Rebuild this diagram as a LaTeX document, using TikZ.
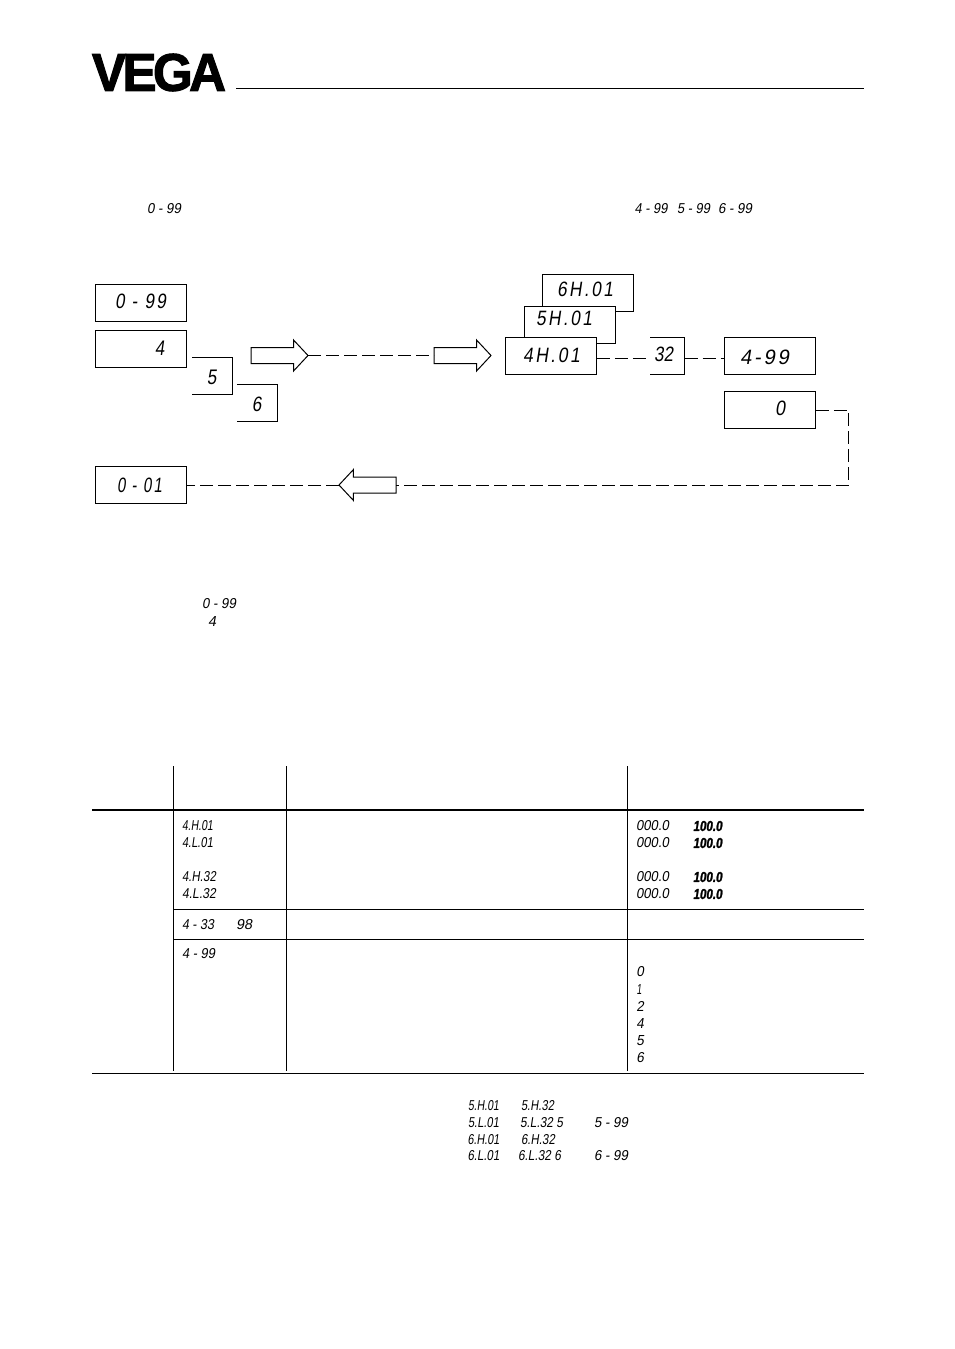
\documentclass[tikz,border=0pt]{standalone}
\usepackage{graphicx}
\usepackage{fontspec}
\usetikzlibrary{shapes.arrows}
\newfontfamily\segfont[FakeSlant=0.18]{Liberation Sans}
\newfontfamily\segwide[FakeSlant=0.18,LetterSpace=14]{Liberation Sans}
\newfontfamily\segbold[FakeSlant=0.18,FakeBold=2]{Liberation Sans Bold}
\newfontfamily\logofont[LetterSpace=-7,FakeBold=2]{Liberation Sans Bold}
\newcommand\fitseg[3]{\resizebox{#1pt}{#2pt}{\segfont #3}}
\newcommand\fitwide[3]{\resizebox{#1pt}{#2pt}{\segwide #3}}
\newcommand\fitbold[3]{\resizebox{#1pt}{#2pt}{\segbold #3}}
\tikzset{
  x=1pt,y=-1pt,
  lbl/.style={inner sep=0pt,outer sep=0pt},
  dbox/.style={draw=black,fill=white,line width=1pt,inner sep=0pt,outer sep=0pt,minimum width=91.5pt,minimum height=37pt},
  obox/.style={inner sep=0pt,outer sep=0pt,minimum height=37pt},
  dashc/.style={line width=1pt,dash pattern=on 13pt off 5pt},
  bigarrow/.style={single arrow,draw=black,line width=1pt,fill=white,inner xsep=0pt,inner ysep=7.5pt,outer sep=0pt,minimum height=57pt,minimum width=0pt,single arrow head extend=7.5pt,single arrow tip angle=94,single arrow head indent=0pt,anchor=tail},
  rule/.style={line width=1pt,line cap=butt},
  thickrule/.style={line width=2pt}
}
\begin{document}
\begin{tikzpicture}
\useasboundingbox (0,0) rectangle (954,1349);
% logo and head rule
\node[lbl] (logo) at (159,72.5) {\resizebox{134pt}{37pt}{\logofont VEGA}};
\coordinate (hl) at (236,88); \coordinate (hr) at (864,88);
\draw[rule] (hl) -- (hr);
% top line
\node[lbl] (t1) at (164,209) {\fitseg{34}{10}{0 - 99}};
\node[lbl] (t2) at (651,209) {\fitseg{33}{10}{4 - 99}};
\node[lbl] (t3) at (693.5,209) {\fitseg{33}{10}{5 - 99}};
\node[lbl] (t4) at (735,209) {\fitseg{34}{10}{6 - 99}};
% display boxes, left
\node[dbox] (b099) at (141,303) {};
\node[lbl] (b099t) at (140.5,301) {\fitwide{51}{14.5}{0 - 99}};
\node[dbox] (b4) at (141,348.5) {};
\node[lbl] (b4t) at (159.5,348) {\fitseg{9.5}{14.5}{4}};
\node[obox,minimum width=40.5pt] (b5) at (212.3,375.5) {};
\draw[rule] (b5.north west) -- (b5.north east) -- (b5.south east) -- (b5.south west);
\node[lbl] (b5t) at (211.5,377) {\fitseg{9.5}{14.5}{5}};
\node[obox,minimum width=40.5pt] (b6) at (257.2,403) {};
\draw[rule] (b6.north west) -- (b6.north east) -- (b6.south east) -- (b6.south west);
\node[lbl] (b6t) at (256.5,404) {\fitseg{9.5}{14.5}{6}};
\node[dbox] (b001) at (141,485) {};
\node[lbl] (b001t) at (139.5,485) {\fitwide{45}{14.5}{0 - 01}};
% display boxes, right
\node[dbox] (h6) at (588,292.5) {};
\node[lbl] (h6t) at (585,289) {\fitwide{56}{14.5}{6H.01}};
\node[dbox] (h5) at (570,324.5) {};
\node[lbl] (h5t) at (564,318) {\fitwide{56}{14.5}{5H.01}};
\node[dbox] (h4) at (551,356) {};
\node[lbl] (h4t) at (551.5,355) {\fitwide{57}{14.5}{4H.01}};
\node[obox,minimum width=34.5pt] (h32) at (667.3,356) {};
\draw[rule] (h32.north west) -- (h32.north east) -- (h32.south east) -- (h32.south west);
\node[lbl] (h32t) at (663.5,354) {\fitseg{19}{14.5}{32}};
\node[dbox] (r499) at (770,356) {};
\node[lbl] (r499t) at (764.5,357) {\fitwide{49}{14.5}{4-99}};
\node[dbox] (r0) at (770,410) {};
\node[lbl] (r0t) at (780,408) {\fitseg{10}{14.5}{0}};
% outline arrows
\node[bigarrow] (a1) at (251,355.5) {};
\node[bigarrow] (a2) at (434,355.5) {};
\node[bigarrow,shape border rotate=180] (a3) at (396,485) {};
% connectors
\coordinate (corner) at (848.7,485);
\draw[dashc] (a1.tip) -- (a2.tail);
\draw[dashc] ([yshift=-2pt]h4.east) -- ([yshift=-2pt]h32.west);
\draw[dashc] ([yshift=-2pt]h32.east) -- ([yshift=-2pt]r499.west);
\draw[dashc] (r0.east) -| (corner) -- (a3.tail);
\draw[dashc] (a3.tip) -- (b001.east);
% middle text
\node[lbl] (m1) at (219,604) {\fitseg{34}{10}{0 - 99}};
\node[lbl] (m2) at (212,621) {\fitseg{8}{10}{4}};
% table rules
\coordinate (v1t) at (173.5,766); \coordinate (v1b) at (173.5,1071);
\coordinate (v2t) at (286.5,766); \coordinate (v2b) at (286.5,1071);
\coordinate (v3t) at (627.5,766); \coordinate (v3b) at (627.5,1071);
\coordinate (h1l) at (92,810); \coordinate (h1r) at (864,810);
\coordinate (h2l) at (173,909); \coordinate (h2r) at (864,909);
\coordinate (h3l) at (173,939); \coordinate (h3r) at (864,939);
\coordinate (h4l) at (92,1073.5); \coordinate (h4r) at (864,1073.5);
\draw[rule] (v1t) -- (v1b); \draw[rule] (v2t) -- (v2b); \draw[rule] (v3t) -- (v3b);
\draw[thickrule] (h1l) -- (h1r);
\draw[rule] (h2l) -- (h2r); \draw[rule] (h3l) -- (h3r); \draw[rule] (h4l) -- (h4r);
% table, second column
\node[lbl] (c1) at (197.5,826) {\fitseg{31}{10}{4.H.01}};
\node[lbl] (c2) at (197.5,843) {\fitseg{31}{10}{4.L.01}};
\node[lbl] (c3) at (199,877) {\fitseg{34}{10}{4.H.32}};
\node[lbl] (c4) at (199,894) {\fitseg{34}{10}{4.L.32}};
\node[lbl] (c5) at (198,925) {\fitseg{32}{10}{4 - 33}};
\node[lbl] (c6) at (244,925) {\fitseg{16}{10}{98}};
\node[lbl] (c7) at (198.5,954) {\fitseg{33}{10}{4 - 99}};
% table, fourth column
\node[lbl] (d1) at (652.5,826) {\fitseg{33}{10}{000.0}};
\node[lbl] (d2) at (652.5,843) {\fitseg{33}{10}{000.0}};
\node[lbl] (d3) at (652.5,877) {\fitseg{33}{10}{000.0}};
\node[lbl] (d4) at (652.5,894) {\fitseg{33}{10}{000.0}};
\node[lbl] (e1) at (707.5,826) {\fitbold{29}{10}{100.0}};
\node[lbl] (e2) at (707.5,843) {\fitbold{29}{10}{100.0}};
\node[lbl] (e3) at (707.5,877) {\fitbold{29}{10}{100.0}};
\node[lbl] (e4) at (707.5,894) {\fitbold{29}{10}{100.0}};
\node[lbl] (f0) at (640,972) {\fitseg{7.5}{10}{0}};
\node[lbl] (f1) at (639,989) {\fitseg{5}{10}{1}};
\node[lbl] (f2) at (640,1006) {\fitseg{7.5}{10}{2}};
\node[lbl] (f4) at (640,1023) {\fitseg{7.5}{10}{4}};
\node[lbl] (f5) at (640,1041) {\fitseg{7.5}{10}{5}};
\node[lbl] (f6) at (640,1058) {\fitseg{7.5}{10}{6}};
% bottom notes
\node[lbl] (g1) at (483.5,1106) {\fitseg{31}{10}{5.H.01}};
\node[lbl] (g2) at (537.5,1106) {\fitseg{33}{10}{5.H.32}};
\node[lbl] (g3) at (483.5,1123) {\fitseg{31}{10}{5.L.01}};
\node[lbl] (g4) at (541.5,1123) {\fitseg{43}{10}{5.L.32 5}};
\node[lbl] (g5) at (611,1123) {\fitseg{34}{10}{5 - 99}};
\node[lbl] (g6) at (483.5,1140) {\fitseg{32}{10}{6.H.01}};
\node[lbl] (g7) at (538,1140) {\fitseg{34}{10}{6.H.32}};
\node[lbl] (g8) at (483.5,1156) {\fitseg{32}{10}{6.L.01}};
\node[lbl] (g9) at (539.5,1156) {\fitseg{43}{10}{6.L.32 6}};
\node[lbl] (g10) at (611,1156) {\fitseg{34}{10}{6 - 99}};
\end{tikzpicture}
\end{document}
